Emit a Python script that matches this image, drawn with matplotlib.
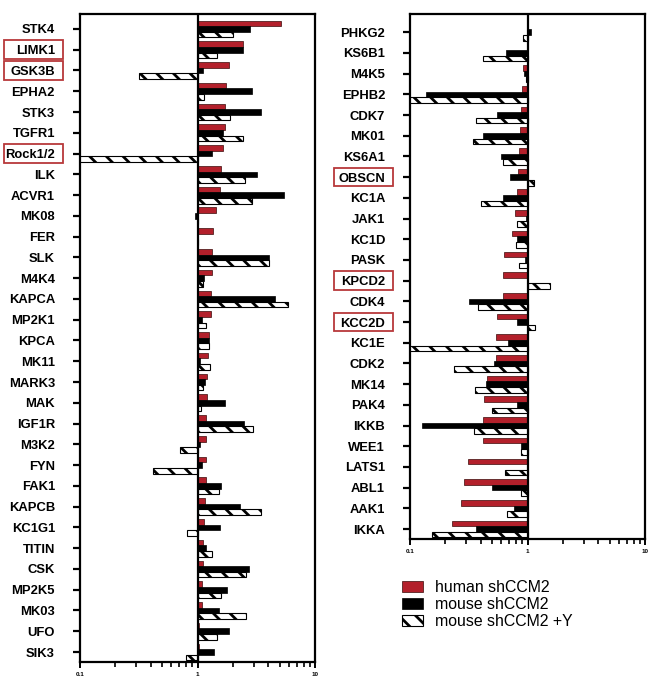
import numpy as np
import matplotlib
matplotlib.use("Agg")
import matplotlib.pyplot as plt
from matplotlib.patches import Rectangle, Patch
from matplotlib.transforms import blended_transform_factory
from matplotlib.ticker import NullFormatter, LogLocator

plt.rcParams['font.family'] = ['Liberation Sans', 'DejaVu Sans']
plt.rcParams['hatch.linewidth'] = 2.0

# ---------------- data ----------------
left_cats = ["STK4", "LIMK1", "GSK3B", "EPHA2", "STK3", "TGFR1", "Rock1/2", "ILK", "ACVR1",
             "MK08", "FER", "SLK", "M4K4", "KAPCA", "MP2K1", "KPCA", "MK11", "MARK3", "MAK",
             "IGF1R", "M3K2", "FYN", "FAK1", "KAPCB", "KC1G1", "TITIN", "CSK", "MP2K5",
             "MK03", "UFO", "SIK3"]
left_human = [5.1, 2.43, 1.84, 1.75, 1.72, 1.70, 1.64, 1.58, 1.56, 1.43, 1.35, 1.33, 1.32,
              1.31, 1.30, 1.25, 1.22, 1.21, 1.20, 1.19, 1.19, 1.19, 1.18, 1.15, 1.14, 1.12,
              1.11, 1.10, 1.09, 1.03, 1.02]
left_mouse = [2.81, 2.43, 1.11, 2.90, 3.50, 1.64, 1.33, 3.24, 5.47, 0.96, 1.0, 4.05, 1.14,
              4.61, 1.09, 1.26, 1.05, 1.15, 1.71, 2.48, 1.04, 1.10, 1.59, 2.31, 1.54, 1.18,
              2.75, 1.78, 1.53, 1.86, 1.37]
left_mouse_y = [2.02, 1.46, 0.315, 1.14, 1.90, 2.42, 0.07, 2.54, 2.90, 1.0, 1.0, 4.05, 1.12,
                5.84, 1.17, 1.26, 1.27, 1.12, 1.07, 2.96, 0.71, 0.42, 1.52, 3.46, 0.82, 1.32,
                2.60, 1.59, 2.58, 1.46, 0.80]
left_boxed = ["LIMK1", "GSK3B", "Rock1/2"]

right_cats = ["PHKG2", "KS6B1", "M4K5", "EPHB2", "CDK7", "MK01", "KS6A1", "OBSCN", "KC1A",
              "JAK1", "KC1D", "PASK", "KPCD2", "CDK4", "KCC2D", "KC1E", "CDK2", "MK14",
              "PAK4", "IKKB", "WEE1", "LATS1", "ABL1", "AAK1", "IKKA"]
right_human = [0.99, 0.99, 0.91, 0.89, 0.88, 0.86, 0.85, 0.83, 0.81, 0.78, 0.745, 0.63, 0.62,
               0.62, 0.55, 0.54, 0.54, 0.45, 0.43, 0.42, 0.42, 0.314, 0.29, 0.27, 0.226]
right_mouse = [1.07, 0.65, 0.94, 0.136, 0.555, 0.42, 0.60, 0.71, 0.62, 0.97, 0.82, 0.955, 1.0,
               0.32, 0.81, 0.68, 0.52, 0.44, 0.82, 0.126, 0.88, 0.99, 0.50, 0.77, 0.367]
right_mouse_y = [0.92, 0.42, 0.97, 0.07, 0.363, 0.347, 0.62, 1.14, 0.40, 0.82, 0.80, 0.84, 1.55,
                 0.38, 1.16, 0.07, 0.239, 0.358, 0.50, 0.353, 0.88, 0.645, 0.88, 0.675, 0.155]
right_boxed = ["OBSCN", "KPCD2", "KCC2D"]

series_labels = ["human shCCM2", "mouse shCCM2", "mouse shCCM2 +Y"]
xtick_vals = [0.1, 1, 10]
xtick_labels = ["0.1", "1", "10"]

RED = "#b3202b"
BOXRED = "#b8383a"
HATCH = "\\\\"

W, H = 654, 694
fig = plt.figure(figsize=(W / 100, H / 100), dpi=100)

def panel(rect_px, cats, hum, mou, mouy, boxed, top_margin):
    x0, y0, x1, y1 = rect_px
    ax = fig.add_axes([x0 / W, 1 - y1 / H, (x1 - x0) / W, (y1 - y0) / H])
    n = len(cats)
    y = np.arange(n)
    bh = 0.27
    ax.barh(y - bh, np.array(hum) - 1, left=1, height=bh, color=RED,
            edgecolor="#3a0a0a", linewidth=0.5, zorder=2)
    ax.barh(y, np.array(mou) - 1, left=1, height=bh, color="black",
            edgecolor="black", linewidth=0.5, zorder=2)
    ax.barh(y + bh, np.array(mouy) - 1, left=1, height=bh, color="white",
            edgecolor="black", linewidth=0.8, hatch=HATCH, zorder=2)
    ax.set_xscale("log")
    ax.set_xlim(0.1, 10)
    ax.set_ylim(n - 1 + 0.48, -top_margin)
    ax.axvline(1, color="black", lw=1.6, zorder=3)
    ax.set_yticks(y)
    ax.set_yticklabels(cats, fontsize=9.4, fontweight="bold")
    ax.tick_params(axis="y", length=5, width=1.6, pad=13, direction="out")
    ax.set_xticks(xtick_vals)
    ax.set_xticklabels(xtick_labels, fontsize=4.5, fontweight="bold")
    ax.xaxis.set_minor_locator(LogLocator(base=10, subs=np.arange(2, 10)))
    ax.xaxis.set_minor_formatter(NullFormatter())
    ax.tick_params(axis="x", which="major", length=4, width=1.4, pad=3)
    ax.tick_params(axis="x", which="minor", length=3.5, width=1.2)
    for s in ax.spines.values():
        s.set_linewidth(1.6)
    tr = blended_transform_factory(ax.transAxes, ax.transData)
    for name in boxed:
        i = cats.index(name)
        ax.add_patch(Rectangle((-0.325, i - 0.45), 0.252, 0.9, transform=tr,
                               fill=False, edgecolor=BOXRED, linewidth=1.3, clip_on=False))
    return ax

ax1 = panel((80, 14, 315, 662), left_cats, left_human, left_mouse, left_mouse_y, left_boxed, 0.72)
ax2 = panel((410, 14, 645, 539), right_cats, right_human, right_mouse, right_mouse_y, right_boxed, 0.88)

handles = [Patch(facecolor=RED, edgecolor="#3a0a0a", linewidth=0.5),
           Patch(facecolor="black", edgecolor="black", linewidth=0.5),
           Patch(facecolor="white", edgecolor="black", linewidth=0.8, hatch=HATCH)]
fig.legend(handles, series_labels, loc="upper left",
           bbox_to_anchor=(402 / W, 1 - 580 / H), frameon=False,
           prop={"family": "Liberation Sans", "size": 11.4},
           borderpad=0, borderaxespad=0, labelspacing=0.12,
           handlelength=1.33, handleheight=0.7, handletextpad=0.76)

fig.savefig("out.png", dpi=100)
